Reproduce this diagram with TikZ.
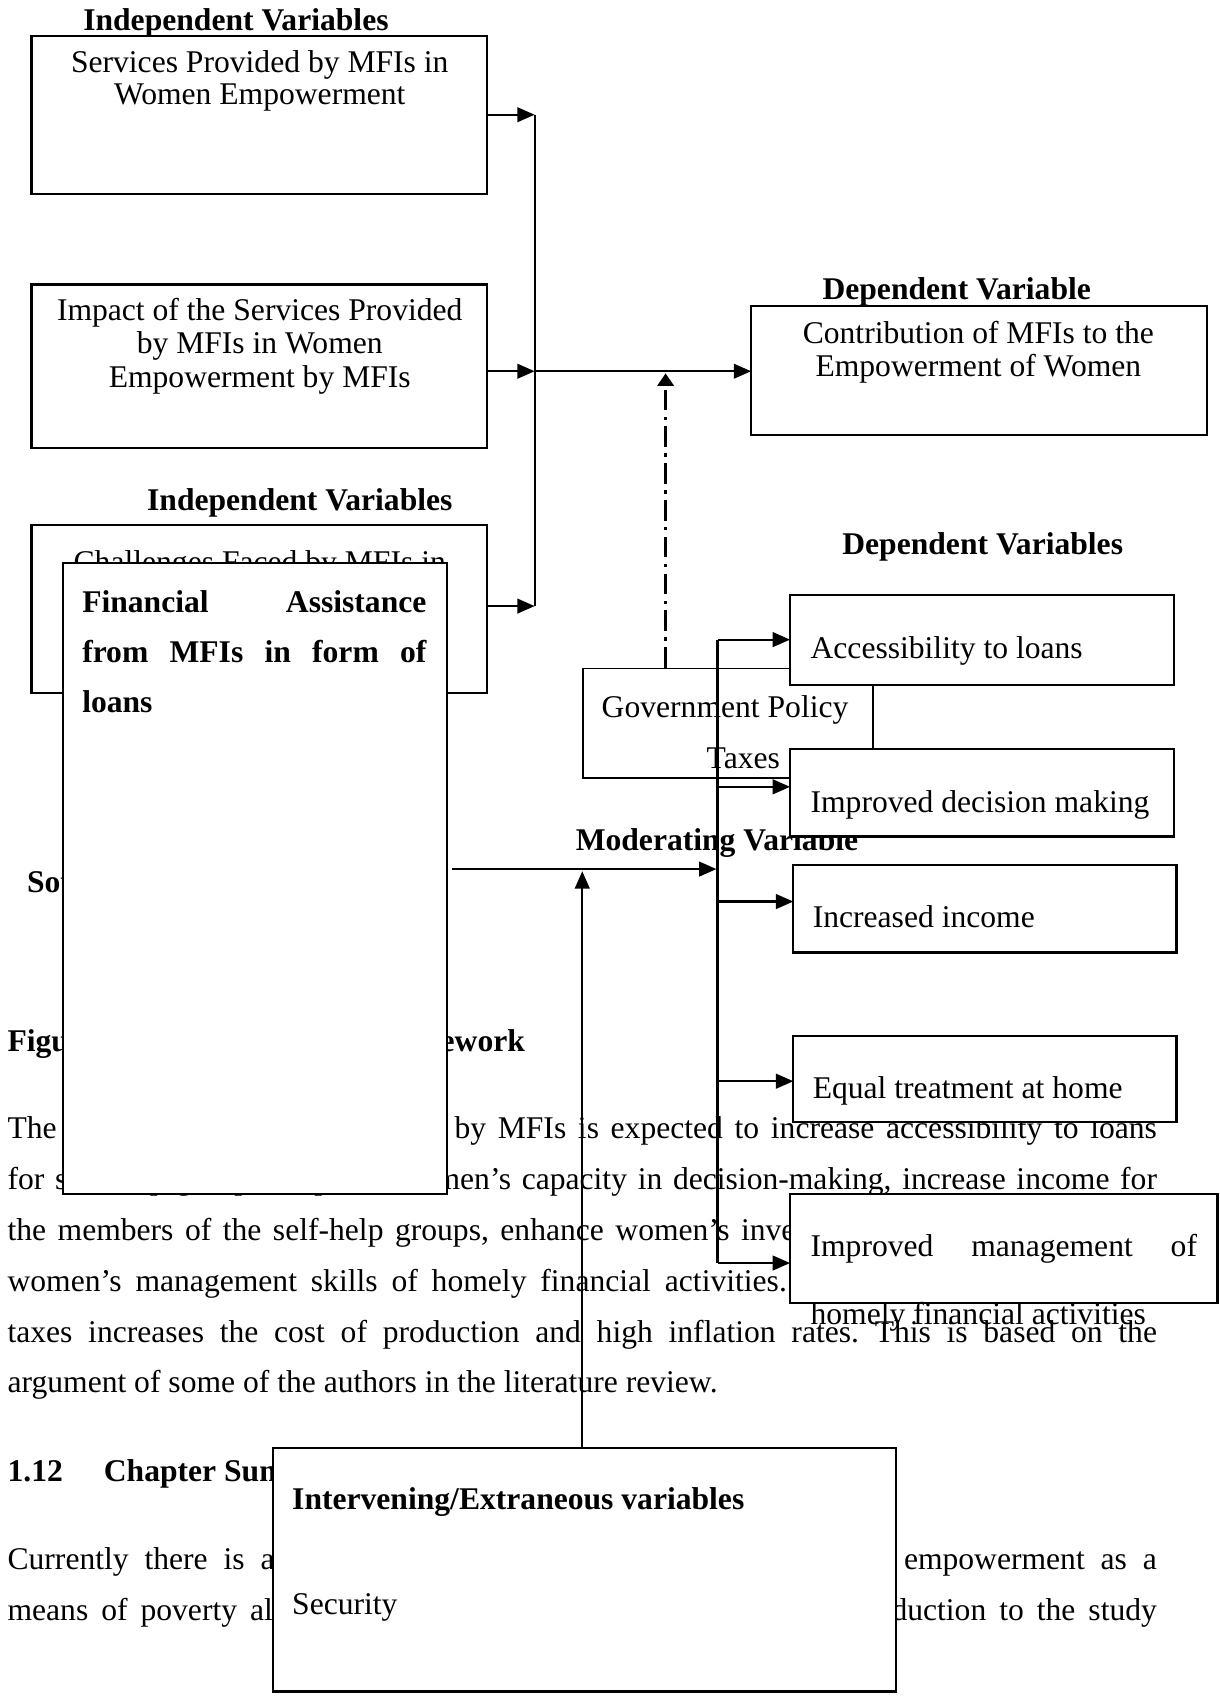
\documentclass[tikz,border=0pt]{standalone}
\usepackage{fontspec}
\setmainfont{Liberation Serif}
\usetikzlibrary{arrows.meta}
\newlength{\px}\setlength{\px}{0.4pt}
\newcommand{\jl}[2]{\makebox[#1\px][s]{#2}}
\newcommand{\fsp}[2]{{\spaceskip=#1\px\relax #2}}
\frenchspacing
\begin{document}
\begin{tikzpicture}[x=0.4pt,y=-0.4pt,
 txt/.style={inner sep=0pt, outer sep=0pt, font=\fontsize{11.68}{14}\selectfont},
 btxt/.style={inner sep=0pt, outer sep=0pt, font=\fontsize{11.68}{14}\selectfont\bfseries},
 box/.style={draw, line width=0.85pt, inner sep=0pt, outer sep=0pt, anchor=north west},
 wbox/.style={box, fill=white},
 ln/.style={line width=0.8pt},
 arr/.style={ln, -{Triangle[length=6.4pt,width=5.4pt]}},
 dasharr/.style={line width=1pt, dash pattern=on 7.6pt off 2.4pt on 1.2pt off 2.4pt, -{Triangle[length=4.6pt,width=6pt]}}]
\useasboundingbox (0,0) rectangle (1127,1568);
\fill[white] (0,0) rectangle (1127,1568);

% ---------- body text of the page ----------
\node[btxt, anchor=base west] (src) at (25,825) {Source:};
\node[btxt, anchor=base west] (fig1) at (7,972) {Figure 1.1: Conceptual};
\node[btxt, anchor=base east] (fig2) at (485,972) {Framework};
\node[txt, anchor=base west] (l1a) at (7,1052) {The financial};
\node[txt, anchor=base east] (l1b) at (1069,1052) {\jl{649}{by MFIs is expected to increase accessibility to loans}};
\node[txt, anchor=base west] (l2) at (7,1099) {\jl{1062}{for self-help groups, improve women’s capacity in decision-making, increase income for}};
\node[txt, anchor=base west] (l3) at (7,1146) {\jl{728}{the members of the self-help groups, enhance women’s inve}stment};
\node[txt, anchor=base west] (l4) at (7,1193) {\jl{720}{women’s management skills of homely financial activities.}};
\node[txt, anchor=base west] (l5) at (7,1240) {\jl{1062}{taxes increases the cost of production and high inflation rates. This is based on the}};
\node[txt, anchor=base west] (l6) at (7,1287) {argument of some of the authors in the literature review.};
\node[btxt, anchor=base west] (secn) at (7,1369) {1.12};
\node[btxt, anchor=base west] (sect) at (96,1369) {Chapter Summary};
\node[txt, anchor=base west] (c1a) at (7,1450) {\fsp{14.7}{Currently there is a growing}};
\node[txt, anchor=base east] (c1b) at (1069,1450) {\fsp{14.7}{empowerment as a}};
\node[txt, anchor=base west] (c2a) at (7,1497) {\fsp{12}{means of poverty alleviation}};
\node[txt, anchor=base east] (c2b) at (1069,1497) {\fsp{12}{introduction to the study}};

% ---------- headings ----------
\node[btxt, anchor=base] (h1) at (218,28) {Independent Variables};
\node[btxt, anchor=base] (h2) at (884,277) {Dependent Variable};
\node[btxt, anchor=base] (h3) at (277,472) {Independent Variables};
\node[btxt, anchor=base] (h4) at (908,512) {Dependent Variables};

% ---------- independent boxes ----------
\node[box, minimum width=168.4pt, minimum height=58.4pt] (boxA) at (29,33) {};
\node[txt, anchor=base] (a1) at (240,67) {Services Provided by MFIs in};
\node[txt, anchor=base] (a2) at (240,97) {Women Empowerment};

\node[box, minimum width=168.4pt, minimum height=60.4pt] (boxB) at (29,263) {};
\node[txt, anchor=base] (b1) at (240,296) {Impact of the Services Provided};
\node[txt, anchor=base] (b2) at (240,327) {by MFIs in Women};
\node[txt, anchor=base] (b3) at (240,358) {Empowerment by MFIs};

\node[box, minimum width=168.4pt, minimum height=47.6pt] (boxC) at (694,283) {};
\node[txt, anchor=base] (cc1) at (904,317) {Contribution of MFIs to the};
\node[txt, anchor=base] (cc2) at (904,348) {Empowerment of Women};

\node[box, minimum width=168.4pt, minimum height=62pt] (boxD) at (29,485) {};
\node[txt, anchor=base] (d1) at (240,529) {Challenges Faced by MFIs in};

\node[wbox, minimum width=142pt, minimum height=233.2pt] (boxE) at (58,520) {};
\node[btxt, anchor=base west] (e1) at (76,566) {\jl{318}{Financial Assistance}};
\node[btxt, anchor=base west] (e2) at (76,612) {\jl{318}{from MFIs in form of}};
\node[btxt, anchor=base west] (e3) at (76,658) {loans};

% ---------- moderating ----------
\node[draw, line width=0.6pt, inner sep=0pt, anchor=north west, minimum width=107.2pt, minimum height=40.4pt] (gov) at (538,617) {};
\node[txt, anchor=base west] (g1) at (556,663) {Government Policy};
\node[txt, anchor=base west] (g2) at (653,710) {Taxes};
\node[btxt, anchor=base west] (mod) at (532,786) {Moderating Variable};

% ---------- connectors ----------
\coordinate (bA) at (494,106);
\coordinate (bB) at (494,343);
\coordinate (bD) at (494,560);
\draw[ln] (bA) -- (bD);
\draw[arr] (boxA.east |- bA) -- (bA);
\draw[arr] (boxB.east |- bB) -- (bB);
\draw[arr] (boxD.east |- bD) -- (bD);
\draw[arr] (bB) -- (boxC.west |- bB);
\coordinate (dd) at (615,345);
\draw[dasharr] (gov.north -| dd) -- (dd);

\coordinate (v1) at (663,591);
\coordinate (v2) at (663,727);
\coordinate (v3) at (663,833);
\coordinate (v4) at (663,999);
\coordinate (v5) at (663,1167);
\draw[ln] (v1) -- (v5);
\coordinate (mL) at (418,803);
\coordinate (mR) at (662,803);
\draw[arr] (mL) -- (mR);

% ---------- dependent boxes ----------
\node[wbox, minimum width=142pt, minimum height=33.2pt] (acc) at (730,550) {};
\node[txt, anchor=base west] (acct) at (749,608) {Accessibility to loans};
\node[wbox, minimum width=142pt, minimum height=32.4pt] (imp) at (730,692) {};
\node[txt, anchor=base west] (impt) at (749,751) {Improved decision making};
\node[wbox, minimum width=141.6pt, minimum height=32.4pt] (inc) at (733,799) {};
\node[txt, anchor=base west] (inct) at (751,857) {Increased income};
\node[wbox, minimum width=141.6pt, minimum height=32pt] (eq) at (733,957) {};
\node[txt, anchor=base west] (eqt) at (751,1015) {Equal treatment at home};
\node[wbox, minimum width=158pt, minimum height=40.4pt] (mg) at (730,1103) {};
\node[txt, anchor=base west] (mg1) at (749,1161) {\jl{357}{Improved management of}};
\node[txt, anchor=base west] (mg2) at (749,1224) {homely financial activities};

\draw[arr] (v1) -- (acc.west |- v1);
\draw[arr] (v2) -- (imp.west |- v2);
\draw[arr] (v3) -- (inc.west |- v3);
\draw[arr] (v4) -- (eq.west |- v4);
\draw[arr] (v5) -- (mg.west |- v5);

% ---------- intervening ----------
\node[wbox, minimum width=230.4pt, minimum height=90pt] (inter) at (252,1338) {};
\node[btxt, anchor=base west] (it1) at (270,1395) {Intervening/Extraneous variables};
\node[txt, anchor=base west] (it2) at (270,1492) {Security};
\coordinate (iu) at (538,805);
\draw[arr] (inter.north -| iu) -- (iu);
\end{tikzpicture}
\end{document}
